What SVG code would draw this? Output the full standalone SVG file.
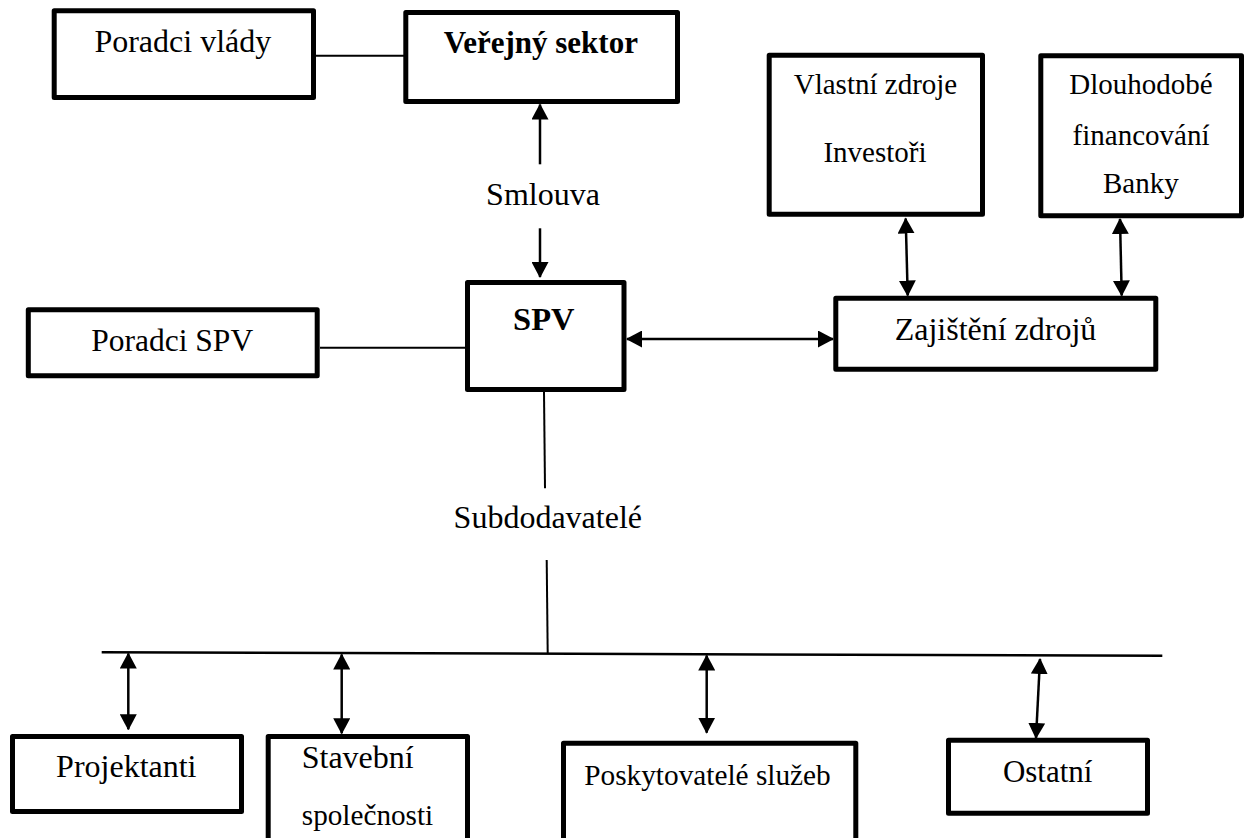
<svg xmlns="http://www.w3.org/2000/svg" width="1245" height="838" viewBox="0 0 1245 838">
<style>
.box{fill:#fff;stroke:#000;stroke-width:5;stroke-linejoin:round}
.t{font-family:"Liberation Serif","Times New Roman",serif;fill:#000;text-anchor:middle}
.b{font-weight:bold}
.ln{stroke:#000;stroke-width:2;fill:none}
.ar{stroke:#000;stroke-width:2.5;fill:none}
</style>
<defs>
<marker id="ah" markerUnits="userSpaceOnUse" markerWidth="16" markerHeight="17" refX="15" refY="8.5" orient="auto-start-reverse" viewBox="0 0 16 17">
<path d="M0,0 L16,8.5 L0,17 z" fill="#000"/>
</marker>
</defs>
<rect width="1245" height="838" fill="#fff"/>
<g id="connectors">
<line class="ln" x1="316" y1="55.7" x2="404" y2="55.7"/>
<line class="ar" x1="540" y1="164.3" x2="540" y2="104.5" marker-end="url(#ah)"/>
<line class="ar" x1="540" y1="228.3" x2="540" y2="277" marker-end="url(#ah)"/>
<line class="ln" x1="320" y1="347.7" x2="465" y2="347.7"/>
<line class="ar" x1="627" y1="339" x2="833" y2="339" marker-start="url(#ah)" marker-end="url(#ah)"/>
<line class="ar" x1="905.7" y1="218.5" x2="907.7" y2="295.5" marker-start="url(#ah)" marker-end="url(#ah)"/>
<line class="ar" x1="1120" y1="219" x2="1121.7" y2="295.5" marker-start="url(#ah)" marker-end="url(#ah)"/>
<line class="ln" x1="544" y1="392" x2="545" y2="488.3"/>
<line class="ln" x1="546.7" y1="560" x2="547.7" y2="654"/>
<line class="ln" x1="101.7" y1="652.3" x2="1162.3" y2="655.7" style="stroke-width:2.5"/>
<line class="ar" x1="128.3" y1="653.5" x2="128.3" y2="729.3" marker-start="url(#ah)" marker-end="url(#ah)"/>
<line class="ar" x1="341.7" y1="654.5" x2="341.7" y2="733.3" marker-start="url(#ah)" marker-end="url(#ah)"/>
<line class="ar" x1="706.7" y1="655.5" x2="706.7" y2="732.7" marker-start="url(#ah)" marker-end="url(#ah)"/>
<line class="ar" x1="1040" y1="659" x2="1036" y2="738" marker-start="url(#ah)" marker-end="url(#ah)"/>
</g>
<g id="label-smlouva"><text class="t" x="543" y="205" font-size="32">Smlouva</text></g>
<g id="label-subdodavatele"><text class="t" x="547.8" y="528.3" font-size="32">Subdodavatelé</text></g>
<g id="poradci-vlady">
<rect class="box" x="54.2" y="10.8" width="259.3" height="86.7"/>
<text class="t" x="182.8" y="52" font-size="32">Poradci vlády</text>
</g>
<g id="verejny-sektor">
<rect class="box" x="405.8" y="12.5" width="271.7" height="89"/>
<text class="t b" x="540.8" y="53.3" font-size="31">Veřejný sektor</text>
</g>
<g id="vlastni-zdroje">
<rect class="box" x="769.2" y="55.2" width="213.3" height="159"/>
<text class="t" x="875.5" y="94.3" font-size="29">Vlastní zdroje</text>
<text class="t" x="875" y="161.7" font-size="29">Investoři</text>
</g>
<g id="dlouhodobe">
<rect class="box" x="1040.8" y="55.8" width="200.7" height="160"/>
<text class="t" x="1141" y="94.3" font-size="29">Dlouhodobé</text>
<text class="t" x="1141" y="145" font-size="29">financování</text>
<text class="t" x="1140.8" y="193.3" font-size="29">Banky</text>
</g>
<g id="spv">
<rect class="box" x="467.5" y="282.5" width="156.5" height="107"/>
<text class="t b" x="543.8" y="330" font-size="32.5">SPV</text>
</g>
<g id="poradci-spv">
<rect class="box" x="28.3" y="309.8" width="288.9" height="66"/>
<text class="t" x="172.2" y="350.7" font-size="31.5">Poradci SPV</text>
</g>
<g id="zajisteni">
<rect class="box" x="835.8" y="298.2" width="320" height="71"/>
<text class="t" x="995.5" y="340" font-size="32">Zajištění zdrojů</text>
</g>
<g id="projektanti">
<rect class="box" x="12.5" y="736.5" width="229" height="75"/>
<text class="t" x="126.3" y="776.7" font-size="32">Projektanti</text>
</g>
<g id="stavebni">
<rect class="box" x="268.2" y="736.5" width="199.3" height="110"/>
<text class="t" x="357.7" y="768.3" font-size="32">Stavební</text>
<text class="t" x="367.5" y="825" font-size="29.2">společnosti</text>
</g>
<g id="poskytovatele">
<rect class="box" x="563.5" y="743.2" width="292.3" height="110"/>
<text class="t" x="707.5" y="785" font-size="29.3">Poskytovatelé služeb</text>
</g>
<g id="ostatni">
<rect class="box" x="948.5" y="740.2" width="199" height="73"/>
<text class="t" x="1047.7" y="781.7" font-size="31">Ostatní</text>
</g>
</svg>
